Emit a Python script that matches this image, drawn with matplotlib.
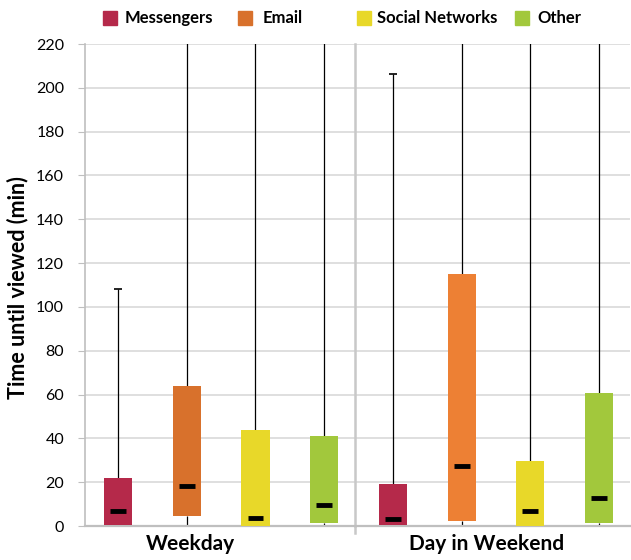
import matplotlib.pyplot as plt
from matplotlib.patches import Rectangle

plt.rcParams['font.family'] = ['Lato', 'DejaVu Sans']

# data (minutes)
categories = ['Messengers', 'Email', 'Social Networks', 'Other']
groups = ['Weekday', 'Day in Weekend']
colors_weekday = ['#B5294A', '#D8712C', '#E8D829', '#A2C83C']
colors_weekend = ['#B5294A', '#ED8034', '#E8D829', '#A2C83C']

q1_weekday = [0.5, 4.5, 0.0, 1.5]
q3_weekday = [22, 64, 44, 41]
med_weekday = [6.8, 18.3, 3.8, 9.6]
lo_weekday = [0, 0, 0, 0]
hi_weekday = [108, 300, 300, 300]

q1_weekend = [0.5, 2.5, 0.0, 1.5]
q3_weekend = [19, 115, 29.5, 60.5]
med_weekend = [3.3, 27.4, 7.0, 12.8]
lo_weekend = [0, 0, 0, 0]
hi_weekend = [206.5, 300, 300, 300]

fig = plt.figure(figsize=(6.31, 5.6), dpi=100)
ax = fig.add_axes([0.1347, 0.0607, 0.8637, 0.8607])

box_w = 0.41
med_w = 0.23
cap_w = 0.11

def draw_group(offset, q1, q3, med, lo, hi, colors):
    xs = [offset + i for i in range(len(q1))]
    # whiskers with caps
    ax.vlines(xs, q3, hi, color='black', lw=0.9, zorder=2)
    ax.vlines(xs, lo, q1, color='black', lw=0.9, zorder=2)
    ax.hlines(lo, [x - cap_w / 2 for x in xs], [x + cap_w / 2 for x in xs],
              color='black', lw=0.9, zorder=2)
    ax.hlines(hi, [x - cap_w / 2 for x in xs], [x + cap_w / 2 for x in xs],
              color='black', lw=1.2, zorder=2)
    # boxes
    ax.bar(xs, [b - a for a, b in zip(q1, q3)], bottom=q1, width=box_w,
           color=colors, zorder=3)
    # medians
    ax.hlines(med, [x - med_w / 2 for x in xs], [x + med_w / 2 for x in xs],
              color='black', lw=3.5, zorder=4)

draw_group(0.48, q1_weekday, q3_weekday, med_weekday, lo_weekday, hi_weekday, colors_weekday)
draw_group(4.48, q1_weekend, q3_weekend, med_weekend, lo_weekend, hi_weekend, colors_weekend)

ax.set_xlim(0, 7.93)
ax.set_ylim(0, 220)
ax.set_yticks(range(0, 221, 20))
ax.set_xticks([])
ax.yaxis.grid(True, color='#D9D9D9', lw=1.2)
ax.set_axisbelow(True)
ax.tick_params(axis='y', direction='out', length=5, color='#BFBFBF',
               labelsize=11.5, pad=10)
for s in ['top', 'right']:
    ax.spines[s].set_visible(False)
ax.spines['left'].set_color('#BFBFBF')
ax.spines['bottom'].set_color('#BFBFBF')
ax.spines['left'].set_linewidth(1.2)
ax.spines['bottom'].set_linewidth(1.6)

# divider between groups
ax.plot([3.93, 3.93], [0, 220], color='#C8C8C8', lw=1.8, clip_on=False, zorder=1)
ax.plot([3.93, 3.93], [0, -3], color='#C8C8C8', lw=1.8, clip_on=False, zorder=1)

fig.text(18 / 631, 1 - 288 / 560, 'Time until viewed (min)', rotation=90,
         ha='center', va='center', fontsize=15.5, fontweight='bold')

# group labels
ax.text(1.53, -3.5, groups[0], ha='center', va='top', fontsize=15, fontweight='bold')
ax.text(5.85, -3.5, groups[1], ha='center', va='top', fontsize=15, fontweight='bold')

# legend
leg_sq_x = [103, 238, 357, 515]
leg_tx_x = [125, 263, 377, 537]
for c, name, sx, tx in zip(colors_weekday, categories, leg_sq_x, leg_tx_x):
    fig.patches.append(Rectangle((sx / 631, 1 - 25 / 560), 14 / 631, 14 / 560,
                                 transform=fig.transFigure, color=c))
    fig.text(tx / 631, 1 - 18 / 560, name, ha='left', va='center',
             fontsize=12, fontweight='bold')

fig.savefig('out.png', dpi=100)
